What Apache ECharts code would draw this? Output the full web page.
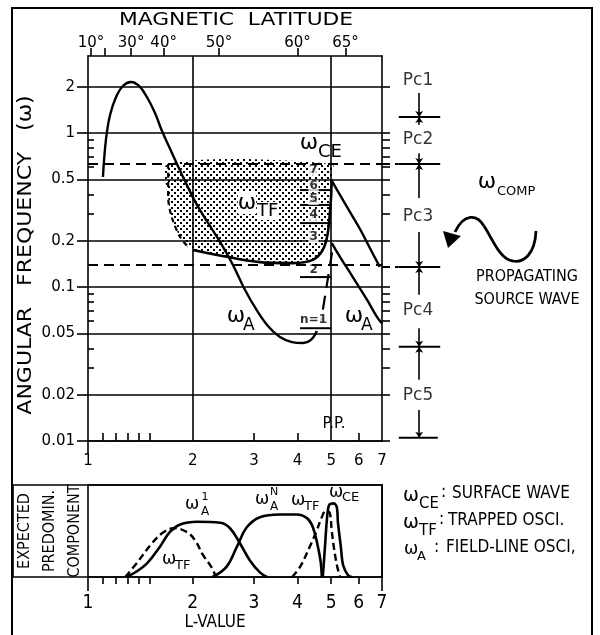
<!DOCTYPE html>
<html><head><meta charset="utf-8">
<script src="https://cdn.jsdelivr.net/npm/echarts@6/dist/echarts.min.js"></script>
<style>html,body{margin:0;padding:0;background:#fff}#c{width:600px;height:635px}</style>
</head><body><div id="c"></div>
<script>
// ---------------- data ----------------
const lValueTicks = [1, 2, 3, 4, 5, 6, 7];
const lMinorTicks = [1.1, 1.2, 1.3, 1.4, 1.5, 3, 4, 6];
const lBottomTicks = [1.1, 1.2, 1.3, 1.4, 1.5, 2, 3, 4, 5, 6];
const freqTicks = [0.01, 0.02, 0.05, 0.1, 0.2, 0.5, 1, 2];
const freqMinorTicks = [0.03, 0.04, 0.06, 0.07, 0.08, 0.09, 0.3, 0.4, 0.6, 0.7, 0.8, 0.9];
const latLabels = ['10°', '', '30°', '40°', '50°', '60°', '65°'];
const latL = [1.02, 1.12, 1.33, 1.65, 2.38, 4.0, 5.5];
const gridLinesL = [2, 5];

const pcNames = ['Pc1', 'Pc2', 'Pc3', 'Pc4', 'Pc5'];
const pcLabelW = [2.2, 0.91, 0.285, 0.07, 0.0196];
const pcBounds = [1.27, 0.63, 0.135, 0.041, 0.0105];
const pcArrowFromAbove = [1.82, 0.74, 0.228, 0.054, 0.0159];
const pcArrowFromBelow = [1.13, 0.378, 0.089, 0.025, null];

const wA_inner = [[1.104,0.518],[1.126,0.901],[1.157,1.309],[1.204,1.713],[1.260,2.020],[1.329,2.144],[1.402,2.020],[1.477,1.713],[1.558,1.349],[1.632,1.030],[1.743,0.742],[1.887,0.503],[2.057,0.341],[2.242,0.249],[2.427,0.187],[2.610,0.139],[2.808,0.0986],[3.040,0.0720],[3.290,0.0558],[3.562,0.0473],[3.857,0.0439],[4.148,0.0433],[4.373,0.0453],[4.550,0.0518]];
const wA_outerHigh = [[5.02,0.49],[5.30,0.396],[5.66,0.307],[6.05,0.238],[6.46,0.179],[6.90,0.135]];
const wA_outerLow = [[5.02,0.193],[5.30,0.157],[5.77,0.116],[6.33,0.083],[6.77,0.064],[7.0,0.058]];
const wTF_edge = [[1.70,0.63],[1.70,0.384],[1.74,0.285],[1.84,0.211],[1.94,0.182]];
const wTF_floor = [[2.0,0.174],[2.51,0.157],[3.12,0.145],[3.88,0.143],[4.43,0.150],[4.73,0.174],[4.89,0.224],[4.99,0.367],[5.02,0.50]];
const harmonicW = [0.054, 0.116, 0.26, 0.341, 0.426];
const harmonicLabels = ['n=1', '2', '3', '4', '5', '6', '7'];
const harmonicLabelW = [0.061, 0.129, 0.211, 0.294, 0.373, 0.452, 0.575];
const harmonicSlant = [[5.03,0.168],[4.67,0.059]];

// bottom panel: expected predominant component
const compA1 = [[1.29,0],[1.38,0.06],[1.48,0.15],[1.61,0.33],[1.72,0.49],[1.84,0.57],[2.06,0.60],[2.40,0.59],[2.56,0.53],[2.73,0.37],[2.92,0.18],[3.12,0.05],[3.27,0]];
const compAN = [[2.28,0],[2.5,0.11],[2.68,0.33],[2.86,0.54],[3.12,0.65],[3.56,0.68],[3.98,0.68],[4.26,0.64],[4.43,0.54],[4.58,0.33],[4.67,0.15],[4.7,0]];
const compTF1 = [[1.28,0],[1.38,0.15],[1.53,0.37],[1.64,0.48],[1.76,0.53],[1.92,0.49],[2.03,0.40],[2.14,0.24],[2.27,0.10],[2.33,0]];
const compTF2 = [[3.86,0],[4.07,0.11],[4.34,0.33],[4.55,0.51],[4.70,0.65],[4.83,0.72],[4.95,0.70],[5.02,0.50],[5.10,0.30],[5.20,0.12],[5.30,0]];
const compCE = [[4.73,0],[4.80,0.33],[4.86,0.62],[4.93,0.78],[5.09,0.80],[5.19,0.76],[5.23,0.59],[5.33,0.33],[5.41,0.13],[5.59,0.02],[5.74,0]];

// ---------------- chart ----------------
const K = '#000';
const SANS = "'DejaVu Sans', sans-serif";
const NARROW = "'Liberation Sans Narrow', 'DejaVu Sans Condensed', sans-serif";
const YMIN = 0.01, YMAX = 3.1623;

const pattern = (() => {
  const c = document.createElement('canvas'); c.width = 6; c.height = 6;
  const g = c.getContext('2d'); g.fillStyle = '#000';
  g.fillRect(0, 0, 2, 2); g.fillRect(3, 3, 2, 2);
  return c;
})();
const tfRegion = wTF_edge.concat(wTF_floor).concat([[5.02, pcBounds[1]]]);

const ax = { lineStyle: { color: K, width: 1.6 } };
const noSplit = { show: false };

function lineS(data, extra) {
  return Object.assign({
    type: 'line', xAxisIndex: 0, yAxisIndex: 0, data, symbol: 'none', smooth: 0.4,
    silent: true, z: 3, lineStyle: { color: K, width: 2.4 }
  }, extra || {});
}

const series = [];
series.push(lineS(wA_inner, {
  markLine: {
    silent: true, symbol: 'none', label: { show: false }, animation: false,
    data: gridLinesL.map(v => ({ xAxis: v, lineStyle: { color: K, width: 1.6, type: 'solid' } }))
      .concat([pcBounds[1], pcBounds[2]].map(v => ({ yAxis: v, lineStyle: { color: K, width: 2, type: [10, 6] } })))
  }
}));
series.push(lineS(wA_outerHigh));
series.push(lineS(wA_outerLow));
series.push(lineS(wTF_floor, { smooth: 0.3, lineStyle: { color: K, width: 2.6 } }));
series.push(lineS(wTF_edge, { smooth: 0.3, lineStyle: { color: K, width: 2.2, type: [5, 4] } }));
series.push({
  type: 'custom', xAxisIndex: 0, yAxisIndex: 0, silent: true, z: 1, data: [[2, 0.3]],
  renderItem: (params, api) => ({
    type: 'polygon', shape: { points: tfRegion.map(p => api.coord(p)), smooth: 0.3 },
    style: { fill: { image: pattern, repeat: 'repeat' }, stroke: null }
  })
});
harmonicW.forEach(w => series.push(lineS([[4.07, w], [5.0, w]], { smooth: false, lineStyle: { color: K, width: 2 } })));
series.push(lineS(harmonicSlant, { smooth: false, lineStyle: { color: K, width: 2.2, type: [14, 8] } }));
series.push({
  type: 'scatter', xAxisIndex: 0, yAxisIndex: 0, silent: true, z: 4, symbolSize: 1,
  itemStyle: { color: 'rgba(0,0,0,0)' },
  data: harmonicLabelW.map(w => [4.45, w]),
  label: { show: true, position: 'inside', color: K, fontFamily: SANS, fontSize: 12, fontWeight: 'bold',
    backgroundColor: '#fff', padding: [0, 1], formatter: p => harmonicLabels[p.dataIndex] }
});

// Pc scale column
[pcBounds[1], pcBounds[2]].forEach(b => series.push(lineS([[0, b], [0.28, b]], { xAxisIndex: 3, yAxisIndex: 3, smooth: false, lineStyle: { color: K, width: 2, type: [8, 5] } })));
pcBounds.forEach((b, i) => series.push(lineS([[0.28, b], [i === 4 ? 0.93 : 0.97, b]], { xAxisIndex: 3, yAxisIndex: 3, smooth: false, lineStyle: { color: K, width: 2 } })));
const arrows = [];
pcBounds.forEach((b, i) => {
  arrows.push({ coords: [[0.62, pcArrowFromAbove[i]], [0.62, b]] });
  if (pcArrowFromBelow[i] != null) arrows.push({ coords: [[0.62, pcArrowFromBelow[i]], [0.62, b]] });
});
series.push({
  type: 'lines', coordinateSystem: 'cartesian2d', xAxisIndex: 3, yAxisIndex: 3, silent: true,
  symbol: ['none', 'arrow'], symbolSize: 6, lineStyle: { color: K, width: 1.6, opacity: 1, curveness: 0 },
  data: arrows
});
series.push({
  type: 'scatter', xAxisIndex: 3, yAxisIndex: 3, silent: true, symbolSize: 1,
  itemStyle: { color: 'rgba(0,0,0,0)' },
  data: pcLabelW.map(w => [0.6, w]),
  label: { show: true, position: 'inside', color: K, fontFamily: SANS, fontSize: 17, formatter: p => pcNames[p.dataIndex] }
});

// bottom panel
const bot = { xAxisIndex: 4, yAxisIndex: 4, smooth: 0.4 };
series.push(lineS(compA1, Object.assign({}, bot, { lineStyle: { color: K, width: 2.6 } })));
series.push(lineS(compAN, Object.assign({}, bot, { lineStyle: { color: K, width: 2.6 } })));
series.push(lineS(compTF1, Object.assign({}, bot, { lineStyle: { color: K, width: 2.4, type: [7, 4] } })));
series.push(lineS(compTF2, Object.assign({}, bot, { lineStyle: { color: K, width: 2.4, type: [7, 4] } })));
series.push(lineS(compCE, Object.assign({}, bot, { smooth: 0.3, lineStyle: { color: K, width: 2.6 } })));

// ---------------- annotations ----------------
const G = [];
function txt(x, y, t, size, font, extra, align) {
  const a = align || 'center';
  const el = Object.assign({
    type: 'text', x, y, silent: true, z: 50,
    style: { text: t, fontSize: size, fontFamily: font || SANS, fill: K, align: a, verticalAlign: 'middle', textAlign: a, textVerticalAlign: 'middle' }
  }, extra || {});
  if (extra && extra.styleExtra) { Object.assign(el.style, extra.styleExtra); delete el.styleExtra; }
  G.push(el);
}
function txtL(x, y, t, size, font, extra) { txt(x, y, t, size, font, extra, 'left'); }
function omega(x, y, size, sub, subSize, dx, dy, extra) {
  txt(x, y, 'ω', size, SANS, extra);
  txtL(x + dx, y + dy, sub, subSize, SANS, extra);
}
// frame
G.push({ type: 'rect', silent: true, z: 40, shape: { x: 12, y: 8, width: 580, height: 660 }, style: { fill: 'rgba(0,0,0,0)', stroke: K, lineWidth: 2 } });
G.push({ type: 'rect', silent: true, z: 40, shape: { x: 13, y: 485, width: 369, height: 92 }, style: { fill: 'rgba(0,0,0,0)', stroke: K, lineWidth: 1.6 } });

txt(236, 21, 'MAGNETIC  LATITUDE', 17, SANS, { scaleX: 1.28 });
txt(26, 255, 'ANGULAR   FREQUENCY   (ω)', 20, SANS, { rotation: Math.PI / 2, scaleX: 1.1 });
txt(50, 531, 'EXPECTED\nPREDOMIN.\nCOMPONENT', 16, NARROW, { rotation: Math.PI / 2, styleExtra: { lineHeight: 25 } });
txt(215, 623, 'L-VALUE', 17, NARROW);

// top panel symbols
omega(309, 143, 22, 'CE', 18, 9, 9);
omega(247, 203, 22, 'TF', 18, 10, 8, { styleExtra: { backgroundColor: '#fff' } });
omega(236, 316, 22, 'A', 17, 7, 10);
omega(354, 316, 22, 'A', 17, 7, 10);
txt(334, 424, 'P.P.', 15);
omega(487, 182, 22, 'COMP', 13, 10, 10);
txt(527, 277, 'PROPAGATING', 16, NARROW);
txt(527, 300, 'SOURCE WAVE', 16, NARROW);
// wave symbol with arrow
const wv = { type: 'bezierCurve', silent: true, z: 50, style: { stroke: K, lineWidth: 2.8, fill: null } };
G.push(Object.assign({}, wv, { shape: { x1: 536, y1: 231, cpx1: 535, cpy1: 255, cpx2: 523, cpy2: 263, x2: 513, y2: 261 } }));
G.push(Object.assign({}, wv, { shape: { x1: 513, y1: 261, cpx1: 500, cpy1: 260, cpx2: 492, cpy2: 238, x2: 484, y2: 226 } }));
G.push(Object.assign({}, wv, { shape: { x1: 484, y1: 226, cpx1: 477, cpy1: 214, cpx2: 464, cpy2: 213, x2: 455, y2: 232 } }));
G.push({ type: 'polygon', silent: true, z: 50, shape: { points: [[443, 231], [461, 236], [448, 248]] }, style: { fill: K } });

// bottom panel symbols
txt(192, 505, 'ω', 17); txt(205, 497, '1', 11); txt(205, 512, 'A', 12);
omega(169, 560, 17, 'TF', 13, 6, 6);
txt(262, 500, 'ω', 17); txt(274, 492, 'N', 11); txt(274, 507, 'A', 12);
omega(298, 501, 17, 'TF', 13, 6, 6);
omega(336, 493, 17, 'CE', 13, 6, 5);

// legend
omega(411, 496, 19, 'CE', 15, 8, 8); txtL(441, 493, ':', 17, NARROW); txtL(452, 494, 'SURFACE WAVE', 17, NARROW);
omega(411, 523, 19, 'TF', 15, 8, 8); txtL(439, 520, ':', 17, NARROW); txtL(448, 521, 'TRAPPED OSCI.', 17, NARROW);
omega(411, 550, 17, 'A', 13, 6, 7); txtL(434, 548, ':', 17, NARROW); txtL(446, 548, 'FIELD-LINE OSCI,', 17, NARROW);

const fmtFreq = v => String(+Number(v).toPrecision(2));
const nearestLat = v => { let b = 0; latL.forEach((l, i) => { if (Math.abs(l - v) < Math.abs(latL[b] - v)) b = i; }); return latLabels[b]; };

const option = {
  animation: false,
  backgroundColor: '#fff',
  grid: [
    { left: 88, top: 56, width: 294, height: 385 },
    { left: 382, top: 56, width: 60, height: 385 },
    { left: 88, top: 485, width: 294, height: 92 }
  ],
  xAxis: [
    { gridIndex: 0, type: 'log', min: 1, max: 7, position: 'bottom', axisLine: Object.assign({ onZero: false }, ax),
      axisTick: { show: true, length: 12, customValues: [1], lineStyle: { color: K, width: 1.6 } },
      axisLabel: { customValues: lValueTicks, margin: 13, color: K, fontFamily: SANS, fontSize: 15, formatter: v => String(Math.round(v)) },
      splitLine: noSplit, minorTick: { show: false } },
    { gridIndex: 0, type: 'log', min: 1, max: 7, position: 'bottom', axisLine: { show: false, onZero: false },
      axisTick: { show: true, inside: true, length: 8, customValues: lMinorTicks, lineStyle: { color: K, width: 1.6 } },
      axisLabel: { show: false }, splitLine: noSplit },
    { gridIndex: 0, type: 'log', min: 1, max: 7, position: 'top', axisLine: Object.assign({ onZero: false }, ax),
      axisTick: { show: true, length: 8, customValues: latL, lineStyle: { color: K, width: 1.6 } },
      axisLabel: { customValues: latL.filter((l, i) => latLabels[i]), margin: 5, color: K, fontFamily: SANS, fontSize: 15, formatter: v => nearestLat(v) },
      splitLine: noSplit },
    { gridIndex: 1, type: 'value', min: 0, max: 1, show: false },
    { gridIndex: 2, type: 'log', min: 1, max: 7, position: 'bottom', axisLine: Object.assign({ onZero: false }, ax),
      axisTick: { show: true, length: 7, customValues: lBottomTicks, lineStyle: { color: K, width: 1.6 } },
      axisLabel: { customValues: lValueTicks, margin: 17, color: K, fontFamily: NARROW, fontSize: 19, formatter: v => String(Math.round(v)) },
      splitLine: noSplit },
    { gridIndex: 2, type: 'log', min: 1, max: 7, position: 'bottom', axisLine: { show: false, onZero: false },
      axisTick: { show: true, length: 14, customValues: [1, 7], lineStyle: { color: K, width: 1.6 } },
      axisLabel: { show: false }, splitLine: noSplit },
    { gridIndex: 2, type: 'log', min: 1, max: 7, position: 'top', axisLine: Object.assign({ onZero: false }, ax),
      axisTick: { show: false }, axisLabel: { show: false }, splitLine: noSplit }
  ],
  yAxis: [
    { gridIndex: 0, type: 'log', min: YMIN, max: YMAX, position: 'left', axisLine: Object.assign({ onZero: false }, ax),
      axisTick: { show: true, length: 11, customValues: freqTicks, lineStyle: { color: K, width: 1.6 } },
      axisLabel: { customValues: freqTicks, margin: 13, color: K, fontFamily: SANS, fontSize: 15, formatter: fmtFreq },
      splitLine: { show: true, lineStyle: { color: K, width: 1.6, type: 'solid' } } },
    { gridIndex: 0, type: 'log', min: YMIN, max: YMAX, position: 'left', axisLine: { show: false, onZero: false },
      axisTick: { show: true, inside: true, length: 6, customValues: freqMinorTicks, lineStyle: { color: K, width: 1.6 } },
      axisLabel: { show: false }, splitLine: noSplit },
    { gridIndex: 0, type: 'log', min: YMIN, max: YMAX, position: 'right', axisLine: Object.assign({ onZero: false }, ax),
      axisTick: { show: true, length: 8, customValues: freqTicks.concat(freqMinorTicks), lineStyle: { color: K, width: 1.6 } },
      axisLabel: { show: false }, splitLine: noSplit },
    { gridIndex: 1, type: 'log', min: YMIN, max: YMAX, show: false },
    { gridIndex: 2, type: 'value', min: 0, max: 1, position: 'left', axisLine: Object.assign({ onZero: false }, ax),
      axisTick: { show: false }, axisLabel: { show: false }, splitLine: noSplit },
    { gridIndex: 2, type: 'value', min: 0, max: 1, position: 'right', axisLine: Object.assign({ onZero: false }, ax),
      axisTick: { show: false }, axisLabel: { show: false }, splitLine: noSplit }
  ],
  series,
  graphic: { elements: G }
};

const chart = echarts.init(document.getElementById('c'), null, { renderer: 'canvas' });
chart.setOption(option);
</script>
</body></html>
